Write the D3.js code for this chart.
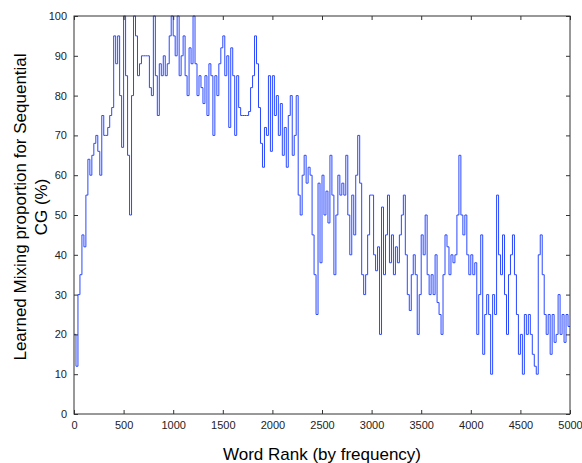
<!DOCTYPE html>
<html><head><meta charset="utf-8">
<script src="https://cdn.jsdelivr.net/npm/d3@7"></script>
<style>body{margin:0;background:#fff;}svg{display:block;}</style>
</head><body>
<svg id="c" width="582" height="463"></svg>
<script>
// rank step between samples
const rankStep = 20;
const xTicks = [0,500,1000,1500,2000,2500,3000,3500,4000,4500,5000];
const yTicks = [0,10,20,30,40,50,60,70,80,90,100];
const xLabel = "Word Rank (by frequency)";
const yLabelLines = ["Learned Mixing proportion for Sequential", "CG (%)"];
// mixing proportion (%) sampled every 20 ranks
const mixValues = [
 20,12,30,35,45,  42,55,64,60,65,  68,70,66,60,75,  70,70,72,75,77,
 95,88,95,80,67,  100,85,65,50,80, 100,95,85,88,90, 90,90,90,82,80,
 100,85,75,88,85, 90,85,88,95,100, 95,90,100,85,90, 95,85,80,92,88,
 100,88,80,85,82, 78,85,75,88,85,  70,85,80,88,92,  95,85,90,72,92,
 85,70,85,77,75,  75,75,75,76,82,  85,95,88,77,68,  62,72,70,85,66,
 85,75,80,70,78,  65,72,62,75,80,  65,70,80,55,50,  60,65,58,62,60,
 45,35,25,58,38,  60,50,56,48,65,  55,35,50,60,55,  58,55,65,50,40,
 55,45,60,70,58,  35,30,35,45,55,  55,40,36,42,20,  52,35,45,55,38,
 45,35,42,38,45,  50,55,40,30,26,  35,40,35,20,30,  45,40,50,35,30,
 35,30,40,28,25,  20,35,45,42,35,  40,38,40,50,65,  50,45,50,40,35,
 40,35,38,20,30,  45,15,25,30,25,  10,30,25,55,40,  35,45,30,20,35,
 40,45,35,25,15,  20,10,25,20,25,  20,15,12,10,40,  45,35,25,20,25,
 15,25,18,20,30,  20,25,18,25,22
];

const svg = d3.select("#c");
const m = {l:74, r:570, t:16, b:414};
const x = d3.scaleLinear().domain([0,5000]).range([m.l, m.r]);
const y = d3.scaleLinear().domain([0,100]).range([m.b, m.t]);

const pts = mixValues.map((v,i)=>[i*rankStep, v]);
pts.push([5000, mixValues[mixValues.length-1]]);

svg.append("path")
  .datum(pts)
  .attr("fill","none")
  .attr("stroke","#2a48ff")
  .attr("stroke-width",1)
  .attr("d", d3.line().x(d=>x(d[0])).y(d=>y(d[1])).curve(d3.curveStepAfter));

const axColor = "#333";
function styleAxis(g, showText){
  g.select(".domain").remove();
  g.selectAll("line").attr("stroke", axColor);
  g.selectAll("text").attr("fill","#222").style("font-family","Arial, Liberation Sans, sans-serif").style("font-size","11px");
  if(!showText) g.selectAll("text").remove();
}
svg.append("g").attr("transform",`translate(0,${m.b})`)
  .call(d3.axisBottom(x).tickValues(xTicks).tickSize(-4).tickPadding(7).tickFormat(d3.format("d")))
  .call(g=>styleAxis(g,true));
svg.append("g").attr("transform",`translate(0,${m.t})`)
  .call(d3.axisTop(x).tickValues(xTicks).tickSize(-4))
  .call(g=>styleAxis(g,false));
svg.append("g").attr("transform",`translate(${m.l},0)`)
  .call(d3.axisLeft(y).tickValues(yTicks).tickSize(-4).tickPadding(7).tickFormat(d3.format("d")))
  .call(g=>styleAxis(g,true));
svg.append("g").attr("transform",`translate(${m.r},0)`)
  .call(d3.axisRight(y).tickValues(yTicks).tickSize(-4))
  .call(g=>styleAxis(g,false));

svg.append("rect").attr("x",m.l).attr("y",m.t).attr("width",m.r-m.l).attr("height",m.b-m.t)
  .attr("fill","none").attr("stroke",axColor).attr("stroke-width",1);

svg.append("text").attr("x",(m.l+m.r)/2).attr("y",460).attr("text-anchor","middle")
  .style("font-family","Arial, Liberation Sans, sans-serif").style("font-size","17px").attr("fill","#000")
  .text(xLabel);

const yl = svg.append("text").attr("transform",`translate(26,207) rotate(-90)`).attr("text-anchor","middle")
  .style("font-family","Arial, Liberation Sans, sans-serif").style("font-size","17px").attr("fill","#000");
yl.append("tspan").attr("x",0).attr("y",0).text(yLabelLines[0]);
yl.append("tspan").attr("x",0).attr("y",21).text(yLabelLines[1]);
</script>
</body></html>
